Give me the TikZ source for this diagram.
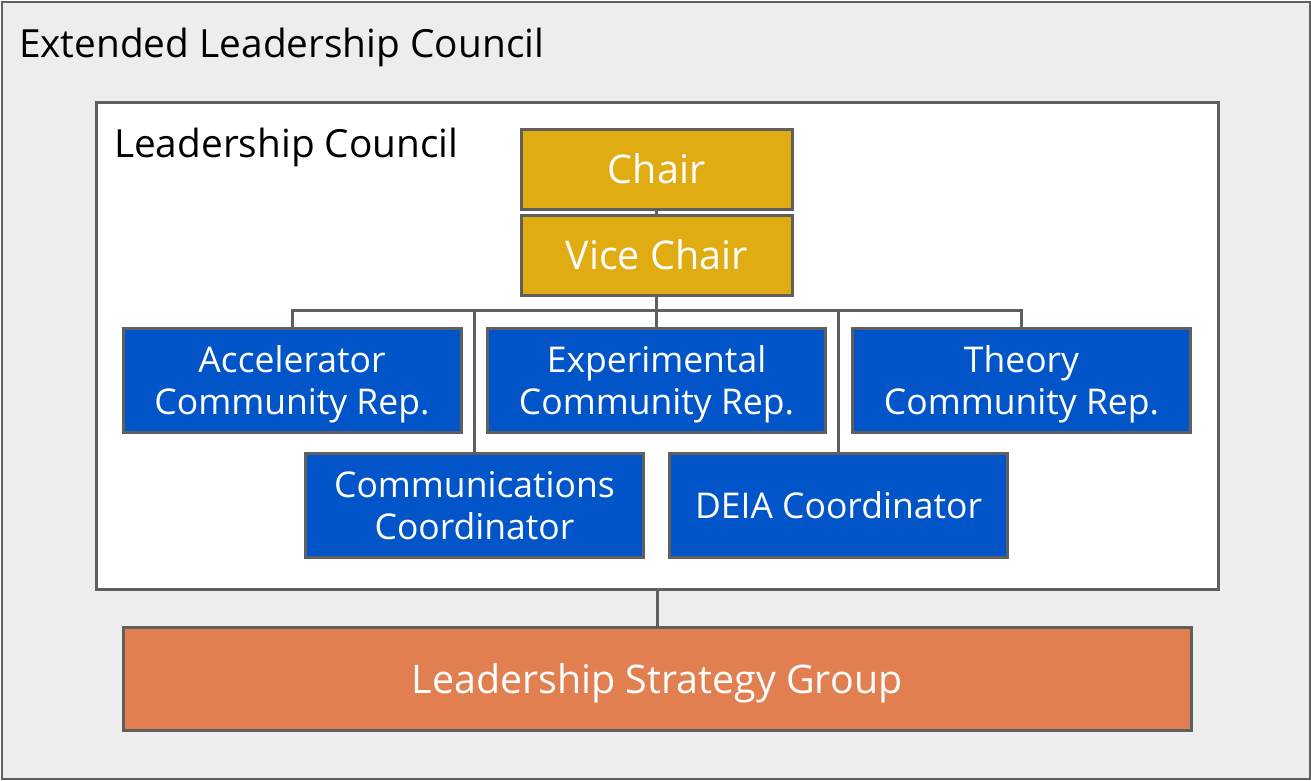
\documentclass[tikz,border=0pt]{standalone}
\usepackage{fontspec}
\setmainfont{Open Sans}
\definecolor{bordergray}{HTML}{5F5F5F}
\definecolor{outerbg}{HTML}{EDEDED}
\definecolor{gold}{HTML}{E1AB12}
\definecolor{roleblue}{HTML}{0155C8}
\definecolor{lsgorange}{HTML}{E27F51}
\begin{document}
\begin{tikzpicture}[x=1pt,y=-1pt,
  every node/.style={inner sep=0pt, outer sep=0pt},
  frame/.style={draw=bordergray, line width=3pt, rectangle},
  goldbox/.style={frame, fill=gold, text=white, minimum width=271pt, minimum height=80pt, font=\fontsize{39.5}{44}\selectfont},
  bluebox/.style={frame, fill=roleblue, text=white, minimum width=338pt, minimum height=104pt, align=center, text depth=0pt, font=\fontsize{35.5}{42}\selectfont},
  link/.style={draw=bordergray, line width=3pt},
  title/.style={anchor=base west, text=black, font=\fontsize{38.8}{44}\selectfont}
]
\useasboundingbox (0,0) rectangle (1311,780);
\node[draw=bordergray, line width=2pt, fill=outerbg, minimum width=1308pt, minimum height=777pt] (elc) at (655.5,390) {};
\node[title] (elct) at (19,57) {Extended Leadership Council};
\node[frame, fill=white, minimum width=1122pt, minimum height=487pt] (lc) at (657,345.5) {};
\node[title] (lct) at (114,157) {Leadership Council};
\node[goldbox] (chair) at (656.5,169) {Chair};
\node[goldbox] (vice) at (656.5,255) {Vice Chair};
\node[bluebox] (acc) at (292,380.5) {Accelerator\\Community Rep.};
\node[bluebox] (exp) at (656.5,380.5) {Experimental\\Community Rep.};
\node[bluebox] (theo) at (1021.5,380.5) {Theory\\Community Rep.};
\node[bluebox] (comm) at (474.5,505) {Communications\\Coordinator};
\node[bluebox] (deia) at (838.5,505) {DEIA Coordinator};
\node[frame, fill=lsgorange, text=white, minimum width=1068pt, minimum height=103pt, text depth=0pt, font=\fontsize{39.4}{44}\selectfont] (lsg) at (657,678.5) {Leadership Strategy Group};
\coordinate (bus) at (656.5,310);
\path[link] (chair.south) -- (vice.north);
\path[link] (vice.south) -- (bus);
\path[link] (acc.north) -- (acc.north |- bus) -- (theo.north |- bus) -- (theo.north);
\path[link] (exp.north) -- (bus);
\path[link] (comm.north) -- (comm.north |- bus);
\path[link] (deia.north) -- (deia.north |- bus);
\path[link] (lc.south -| lsg.north) -- (lsg.north);
\end{tikzpicture}
\end{document}
